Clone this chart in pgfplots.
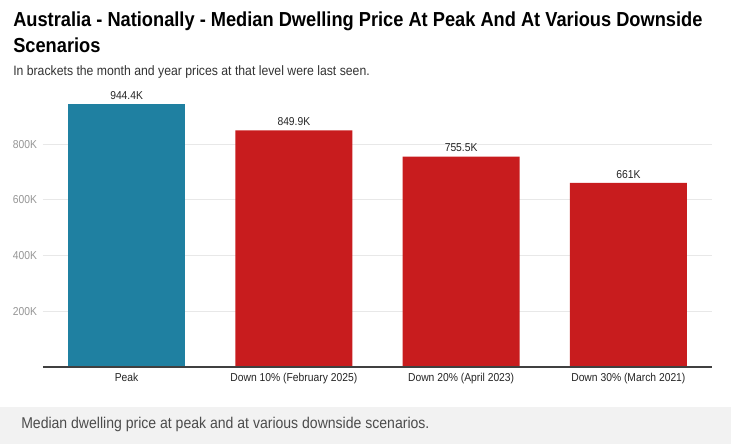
\documentclass[border=0pt]{standalone}
\usepackage{pgfplots}
\pgfplotsset{compat=1.18}
\usepackage{fontspec}
\setmainfont{Liberation Sans}
\newfontfamily\titlefont[FakeStretch=0.90]{Liberation Sans}
\definecolor{teal}{RGB}{31,128,161}
\definecolor{barred}{RGB}{200,28,30}
\definecolor{gridc}{RGB}{232,232,232}
\definecolor{tickc}{RGB}{150,150,150}
\definecolor{capbg}{RGB}{242,242,242}
\newcommand{\PX}[2]{({#1*0.75pt},{(444-#2)*0.75pt})}
\begin{document}
\begin{tikzpicture}
\fill[white] \PX{0}{0} rectangle \PX{731}{444};
\fill[capbg] \PX{0}{407} rectangle \PX{731}{444};
\node[anchor=west,inner sep=0] at \PX{13}{21} {\titlefont\fontsize{15.2}{18}\selectfont\bfseries Australia - Nationally - Median Dwelling Price At Peak And At Various Downside};
\node[anchor=west,inner sep=0] at \PX{13}{45} {\titlefont\fontsize{15.2}{18}\selectfont\bfseries Scenarios};
\node[anchor=west,inner sep=0,text=black!80] at \PX{13}{72} {\titlefont\fontsize{10.2}{12}\selectfont In brackets the month and year prices at that level were last seen.};
\node[anchor=west,inner sep=0,text=black!70] at \PX{21}{424} {\titlefont\fontsize{11.7}{14}\selectfont Median dwelling price at peak and at various downside scenarios.};
\begin{axis}[
  at={(32.25pt,57.75pt)}, anchor=south west,
  scale only axis, width=501.75pt, height=208.9pt,
  xmin=-0.5, xmax=3.5, ymin=0, ymax=1000,
  axis line style={draw=none},
  xtick={0,1,2,3},
  xticklabels={Peak,Down 10\% (February 2025),Down 20\% (April 2023),Down 30\% (March 2021)},
  ytick={200,400,600,800},
  yticklabels={200K,400K,600K,800K},
  ymajorgrids, grid style={gridc, line width=0.6pt},
  major tick length=0pt,
  tick label style={font=\titlefont\fontsize{8.6}{10}\selectfont},
  yticklabel style={text=tickc, xshift=-1pt},
  xticklabel style={text=black!85, yshift=-1pt},
  clip=false,
  ybar, bar width=87.75pt, bar shift=0pt,
  nodes near coords,
  point meta=explicit symbolic,
  nodes near coords style={font=\titlefont\fontsize{8.6}{10}\selectfont, text=black!85},
]
\addplot[fill=teal, draw=none] table[meta=l] {
x y l
0 944.4 944.4K
};
\addplot[fill=barred, draw=none] table[meta=l] {
x y l
1 849.9 849.9K
2 755.5 755.5K
3 661 661K
};
\draw[black!75, line width=0.9pt] (axis cs:-0.5,0) -- (axis cs:3.5,0);
\end{axis}
\end{tikzpicture}
\end{document}
